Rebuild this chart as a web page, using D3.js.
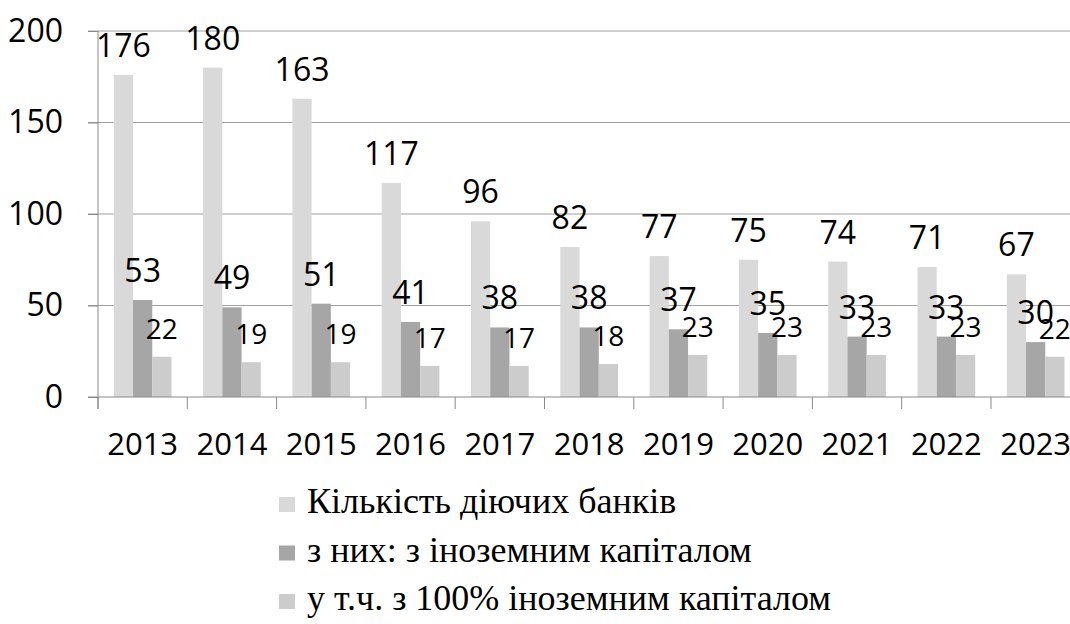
<!DOCTYPE html>
<html>
<head>
<meta charset="utf-8">
<script src="https://cdn.jsdelivr.net/npm/d3@7"></script>
<style>
  body { margin: 0; background: #fff; }
  svg { display: block; }
</style>
</head>
<body>
<div id="chart"></div>
<script>
// data
const years = ["2013", "2014", "2015", "2016", "2017", "2018", "2019", "2020", "2021", "2022", "2023"];
const seriesNames = ["Кількість діючих банків", "з них: з іноземним капіталом", "у т.ч. з 100% іноземним капіталом"];
const banksTotal = [176, 180, 163, 117, 96, 82, 77, 75, 74, 71, 67];
const banksForeign = [53, 49, 51, 41, 38, 38, 37, 35, 33, 33, 30];
const banksForeign100 = [22, 19, 19, 17, 17, 18, 23, 23, 23, 23, 22];
const yTicks = [0, 50, 100, 150, 200];
const colors = ["#d9d9d9", "#a6a6a6", "#cccccc"];

const allSeries = [banksTotal, banksForeign, banksForeign100];

const width = 1070, height = 624;
const svg = d3.select("#chart")
  .append("svg")
    .attr("width", width)
    .attr("height", height);

const y = d3.scaleLinear()
  .domain([0, 200])
  .range([397, 31]);

const x0 = d3.scaleBand()
  .domain(years)
  .range([98, 98 + 11 * 89.3]);

const bw = x0.bandwidth();
const x1 = d3.scaleBand()
  .domain([0, 1, 2])
  .range([bw * 0.177, bw * 0.823]);

// gridlines
svg.append("g")
  .selectAll("line")
  .data(yTicks.filter(d => d > 0))
  .enter()
  .append("line")
    .attr("x1", 88)
    .attr("x2", width)
    .attr("y1", d => y(d))
    .attr("y2", d => y(d))
    .attr("stroke", "#a0a0a0")
    .attr("stroke-width", 1);

// bars
const groups = svg.append("g")
  .selectAll("g")
  .data(years)
  .enter()
  .append("g")
    .attr("transform", d => "translate(" + x0(d) + ",0)");

groups.selectAll("rect")
  .data((yr, i) => allSeries.map((s, k) => ({ k: k, v: s[i] })))
  .enter()
  .append("rect")
    .attr("x", d => x1(d.k))
    .attr("width", x1.bandwidth())
    .attr("y", d => y(d.v))
    .attr("height", d => y(0) - y(d.v))
    .attr("fill", d => colors[d.k]);

// axes
const yAxis = d3.axisLeft(y).tickValues(yTicks).tickSize(10).tickPadding(25);
const gy = svg.append("g")
  .attr("transform", "translate(98,0)")
  .call(yAxis);
gy.select(".domain").attr("d", "M0,31V409").attr("stroke", "#8a8a8a");
gy.selectAll(".tick line").attr("stroke", "#8a8a8a");
gy.selectAll(".tick text")
  .attr("font-family", "'Open Sans', sans-serif")
  .attr("font-size", 32)
  .attr("fill", "#000");

// x axis line with ticks at category boundaries
const boundaries = years.map(d => x0(d)).concat([x0.range()[1]]);
svg.append("line")
  .attr("x1", 88).attr("x2", width)
  .attr("y1", y(0)).attr("y2", y(0))
  .attr("stroke", "#8a8a8a");
svg.append("g")
  .selectAll("line")
  .data(boundaries)
  .enter()
  .append("line")
    .attr("x1", d => d).attr("x2", d => d)
    .attr("y1", y(0)).attr("y2", y(0) + 12)
    .attr("stroke", "#8a8a8a");

svg.append("g")
  .selectAll("text")
  .data(years)
  .enter()
  .append("text")
    .attr("x", d => x0(d) + bw / 2)
    .attr("y", 455)
    .attr("text-anchor", "middle")
    .attr("font-family", "'Open Sans', sans-serif")
    .attr("font-size", 31)
    .text(d => d);

// data labels
groups.selectAll("text")
  .data((yr, i) => allSeries.map((s, k) => ({ k: k, v: s[i] })))
  .enter()
  .append("text")
    .attr("x", d => x1(d.k) + x1.bandwidth() / 2)
    .attr("y", d => y(d.v) - 18)
    .attr("text-anchor", "middle")
    .attr("font-family", "'Open Sans', sans-serif")
    .attr("font-size", d => d.k === 2 ? 28 : 32)
    .text(d => d.v);

// legend
const legend = svg.append("g")
  .selectAll("g")
  .data(seriesNames)
  .enter()
  .append("g")
    .attr("transform", (d, i) => "translate(279," + (513 + i * 48.5) + ")");

legend.append("rect")
  .attr("x", 0).attr("y", -16)
  .attr("width", 16).attr("height", 15)
  .attr("fill", (d, i) => colors[i]);

legend.append("text")
  .attr("x", 28)
  .attr("font-family", "'Liberation Serif', serif")
  .attr("font-size", 36)
  .text(d => d);
</script>
</body>
</html>
